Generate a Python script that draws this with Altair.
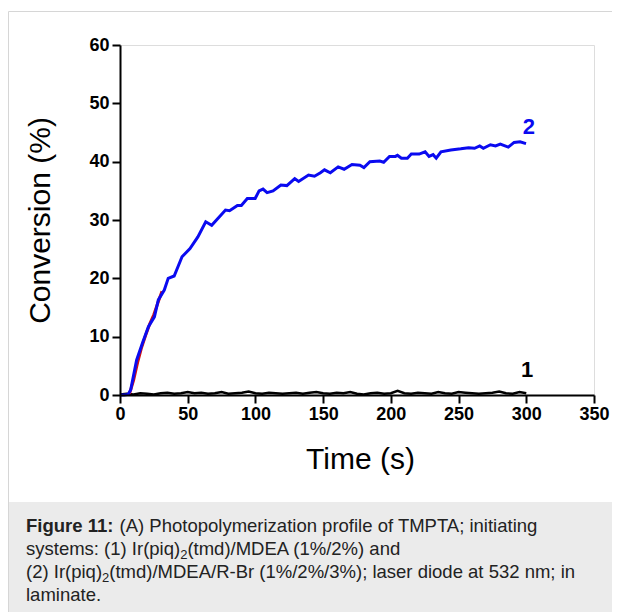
import altair as alt
import pandas as pd

# ---- data ----
t_blue = [0, 3, 6, 7.9, 12.3, 16.6, 21, 25.4, 28.3, 32.7, 35.6, 40, 45.8, 51.7, 57.5, 63.3,
          67.7, 73.6, 77.9, 80.9, 86.7, 89.6, 94, 99.8, 102.7, 105.6, 108.6, 113, 118.8,
          123.2, 129, 131.9, 139.2, 143.6, 148, 151, 155.3, 161.1, 165.5, 171.3, 177.2,
          180.1, 184.5, 191.8, 194.7, 199, 203.4, 204.9, 207.8, 212.2, 215.1, 220.9, 225.3,
          228.2, 231.2, 233.5, 237, 244.3, 251.6, 257.4, 261.8, 265.6, 268.3, 273.5, 277.3,
          280.8, 286.7, 291, 295.4, 299.8]
v_blue = [0, 0, 0.1, 0.9, 6, 8.9, 11.7, 13.4, 16.3, 18, 20, 20.4, 23.7, 25.1, 27.1, 29.7,
          29.1, 30.6, 31.7, 31.6, 32.5, 32.5, 33.7, 33.7, 35, 35.3, 34.7, 35, 36,
          35.9, 37.1, 36.6, 37.7, 37.5, 38.1, 38.6, 38.1, 39.1, 38.7, 39.5, 39.4,
          39, 40, 40.1, 39.9, 40.9, 40.9, 41.1, 40.6, 40.6, 41.3, 41.3, 41.7,
          40.9, 41.2, 40.6, 41.7, 42, 42.2, 42.4, 42.3, 42.7, 42.3, 42.9, 42.7,
          43, 42.5, 43.3, 43.4, 43.1]

t_red = [7, 10, 13, 16, 19, 22, 25, 28, 31]
v_red = [0.2, 2.5, 5.6, 8.2, 10.3, 12.2, 13.8, 15.8, 17.8]

t_black = list(range(0, 301, 5))
v_black = [0.1, 0.2, 0.1, 0.3, 0.2, 0.1, 0.3, 0.4, 0.2, 0.3, 0.5, 0.3, 0.4, 0.2, 0.3,
           0.5, 0.2, 0.3, 0.4, 0.6, 0.3, 0.2, 0.4, 0.3, 0.2, 0.3, 0.4, 0.2, 0.4, 0.5,
           0.3, 0.2, 0.4, 0.3, 0.5, 0.2, 0.1, 0.3, 0.4, 0.2, 0.3, 0.7, 0.3, 0.2, 0.4,
           0.3, 0.2, 0.5, 0.3, 0.2, 0.5, 0.4, 0.3, 0.2, 0.3, 0.4, 0.6, 0.3, 0.2, 0.5, 0.3]

curve_labels = ["2", "1"]
label_t = [302, 300.6]
label_v = [45.9, 4.3]
label_colors = ["#0a0af0", "#000000"]

x_ticks = list(range(0, 351, 25))
y_ticks = list(range(0, 61, 5))

caption_bold = "Figure 11:"
# each caption line as (text, is_subscript) pieces
caption_lines = [
    [("(A) Photopolymerization profile of TMPTA; initiating", False)],
    [("systems: (1) Ir(piq)", False), ("2", True), ("(tmd)/MDEA (1%/2%) and", False)],
    [("(2) Ir(piq)", False), ("2", True),
     ("(tmd)/MDEA/R-Br (1%/2%/3%); laser diode at 532 nm; in", False)],
    [("laminate.", False)],
]

FONT = "Liberation Sans"
W, H = 474, 350
CAP_FS = 18.5
SUB_FS = 13

# Arial / Liberation Sans advance widths (per 1000 em) for caption layout
ARIAL = {" ": 278, "(": 333, ")": 333, "1": 556, "2": 556, ":": 278, "s": 500, "y": 500,
         "t": 278, "e": 556, "m": 833, "I": 278, "r": 333, "p": 556, "i": 222, "q": 556}
ARIAL_BOLD = {"F": 611, "i": 278, "g": 611, "u": 611, "r": 389, "e": 556, " ": 278,
              "1": 556, ":": 333}


def text_width(s, size, table):
    return sum(table.get(ch, 556) for ch in s) * size / 1000.0


df_blue = pd.DataFrame({"t": t_blue, "v": v_blue})
df_red = pd.DataFrame({"t": t_red, "v": v_red})
df_black = pd.DataFrame({"t": t_black, "v": v_black})
df_lab = pd.DataFrame({"t": label_t, "v": label_v, "txt": curve_labels, "c": label_colors})
one = pd.DataFrame({"a": [0]})

xscale = alt.Scale(domain=[0, 350], nice=False)
yscale = alt.Scale(domain=[0, 60], nice=False)

xaxis = alt.Axis(
    values=x_ticks,
    labelExpr="datum.value % 50 === 0 ? datum.label : ''",
    tickSize={"condition": {"test": "datum.value % 50 === 0", "value": 8}, "value": 5},
    tickWidth=2, tickColor="black", domainColor="black", domainWidth=2,
    labelFont=FONT, labelFontWeight="bold", labelFontSize=18, labelColor="black",
    labelPadding=2, labelFlush=False, labelOverlap=False, grid=False, zindex=2,
    title="Time (s)", titleFont=FONT, titleFontSize=30, titleFontWeight="normal",
    titleColor="black", titleX=240, titleY=73, titleBaseline="alphabetic",
    titleAlign="center",
)
yaxis = alt.Axis(
    values=y_ticks,
    labelExpr="datum.value % 10 === 0 ? datum.label : ''",
    tickSize={"condition": {"test": "datum.value % 10 === 0", "value": 8}, "value": 5},
    tickWidth=2, tickColor="black", domainColor="black", domainWidth=2,
    labelFont=FONT, labelFontWeight="bold", labelFontSize=18, labelColor="black",
    labelPadding=3, labelFlush=False, labelOverlap=False, grid=False, zindex=2,
    title="Conversion (%)", titleFont=FONT, titleFontSize=30, titleFontWeight="normal",
    titleColor="black", titleX=-71, titleY=175, titleBaseline="alphabetic",
    titleAlign="center", titleAngle=270,
)

frame = alt.Chart(one).mark_rect(fillOpacity=0, stroke="#d6d6d6", strokeWidth=1).encode(
    x=alt.value(-111.5), x2=alt.value(520), y=alt.value(-33.5), y2=alt.value(600)
)
capbox = alt.Chart(one).mark_rect(fill="#ebebeb").encode(
    x=alt.value(-111), x2=alt.value(520), y=alt.value(457), y2=alt.value(600)
)

black = alt.Chart(df_black).mark_line(color="black", strokeWidth=2.5).encode(
    x=alt.X("t:Q", scale=xscale, axis=xaxis),
    y=alt.Y("v:Q", scale=yscale, axis=yaxis),
)
red = alt.Chart(df_red).mark_line(color="#d01010", strokeWidth=3).encode(
    x=alt.X("t:Q", scale=xscale), y=alt.Y("v:Q", scale=yscale)
)
blue = alt.Chart(df_blue).mark_line(color="#0a0af0", strokeWidth=3).encode(
    x=alt.X("t:Q", scale=xscale), y=alt.Y("v:Q", scale=yscale)
)
labs = alt.Chart(df_lab).mark_text(font=FONT, fontWeight="bold", fontSize=22,
                                   baseline="middle", align="center").encode(
    x=alt.X("t:Q", scale=xscale), y=alt.Y("v:Q", scale=yscale),
    text="txt:N", color=alt.Color("c:N", scale=None),
)

cap_layers = []
LEFT = -94
base_y = [487, 510, 533, 556]
cap_layers.append(
    alt.Chart(one).mark_text(text=caption_bold, font=FONT, fontWeight="bold", fontSize=CAP_FS,
                             align="left", baseline="alphabetic", color="#222222").encode(
        x=alt.value(LEFT), y=alt.value(base_y[0]))
)
for i, pieces in enumerate(caption_lines):
    xpos = LEFT
    if i == 0:
        xpos += text_width(caption_bold, CAP_FS, ARIAL_BOLD) + text_width(" ", CAP_FS, ARIAL)
    for txt, sub in pieces:
        fs = SUB_FS if sub else CAP_FS
        yy = base_y[i] + (4 if sub else 0)
        cap_layers.append(
            alt.Chart(one).mark_text(text=txt, font=FONT, fontSize=fs, align="left",
                                     baseline="alphabetic", color="#222222").encode(
                x=alt.value(xpos), y=alt.value(yy))
        )
        xpos += text_width(txt, fs, ARIAL)

chart = alt.layer(frame, capbox, black, red, blue, labs, *cap_layers).properties(
    width=W, height=H,
    padding={"left": 112, "top": 37, "right": 18, "bottom": 217},
    autosize=alt.AutoSizeParams(type="none"),
).configure_view(strokeWidth=0).configure(background="white")

chart.save("out.html", embed_options={"renderer": "svg", "actions": False})
